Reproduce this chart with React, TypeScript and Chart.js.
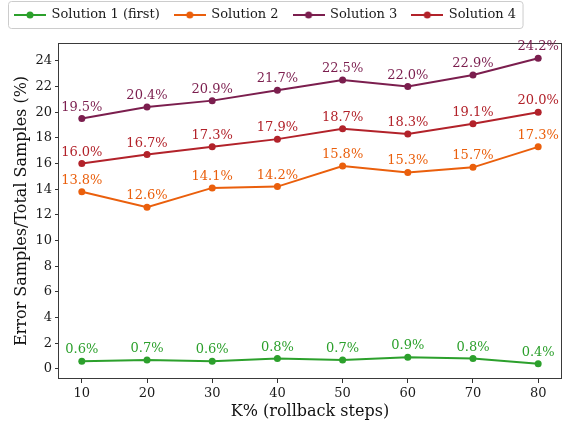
import React, { useEffect, useRef } from 'react';
import { Chart, registerables } from 'chart.js';

Chart.register(...registerables);

const kValues = [10, 20, 30, 40, 50, 60, 70, 80];
const solution1 = [0.6, 0.7, 0.6, 0.8, 0.7, 0.9, 0.8, 0.4];
const solution2 = [13.8, 12.6, 14.1, 14.2, 15.8, 15.3, 15.7, 17.3];
const solution3 = [19.5, 20.4, 20.9, 21.7, 22.5, 22.0, 22.9, 24.2];
const solution4 = [16.0, 16.7, 17.3, 17.9, 18.7, 18.3, 19.1, 20.0];
const seriesNames = ['Solution 1 (first)', 'Solution 2', 'Solution 3', 'Solution 4'];
const seriesValues = [solution1, solution2, solution3, solution4];
const yTickValues = [0, 2, 4, 6, 8, 10, 12, 14, 16, 18, 20, 22, 24];
const xTitle = 'K% (rollback steps)';
const yTitle = 'Error Samples/Total Samples (%)';

const COLORS = ['#2ca02c', '#ea5f0c', '#7b1e4e', '#b2222a'];
const FONT = 'DejaVu Serif';
const X_MIN = 6.5;
const X_MAX = 83.5;
const Y_MIN = -0.79;
const Y_MAX = 25.39;

function makeMarker(color: string): HTMLCanvasElement {
  const c = document.createElement('canvas');
  c.width = 32;
  c.height = 10;
  const ctx = c.getContext('2d')!;
  ctx.strokeStyle = color;
  ctx.lineWidth = 2;
  ctx.beginPath();
  ctx.moveTo(0, 5);
  ctx.lineTo(32, 5);
  ctx.stroke();
  ctx.fillStyle = color;
  ctx.beginPath();
  ctx.arc(16, 5, 3.5, 0, Math.PI * 2);
  ctx.fill();
  return c;
}

export default function App() {
  const ref = useRef<HTMLCanvasElement>(null);

  useEffect(() => {
    document.body.style.margin = '0';
    const canvas = ref.current!;
    const markers = COLORS.map((c) => makeMarker(c));

    const layoutPlugin = {
      id: 'layoutTweaks',
      beforeInit(chart: any) {
        const legend = chart.legend;
        if (legend) {
          const origFit = legend.fit.bind(legend);
          legend.fit = function () {
            origFit();
            this.height = 43;
          };
        }
      },
      afterLayout(chart: any) {
        if (chart.legend) chart.legend.top = -6.5;
      },
      beforeDraw(chart: any) {
        const legend = chart.legend;
        const hb = legend && legend.legendHitBoxes;
        if (!hb || !hb.length) return;
        const ctx = chart.ctx;
        const last = hb[hb.length - 1];
        const l = hb[0].left - 6.5;
        const r = last.left + last.width + 7;
        const t = hb[0].top - 7;
        const b = hb[0].top + hb[0].height + 7;
        ctx.save();
        ctx.beginPath();
        ctx.roundRect(l, t, r - l, b - t, 3);
        ctx.fillStyle = 'rgba(255,255,255,0.8)';
        ctx.fill();
        ctx.strokeStyle = '#cccccc';
        ctx.lineWidth = 1;
        ctx.stroke();
        ctx.restore();
      },
      beforeDatasetsDraw(chart: any) {
        const { ctx, chartArea } = chart;
        ctx.save();
        ctx.strokeStyle = '#3a3a3a';
        ctx.lineWidth = 1;
        ctx.strokeRect(
          Math.round(chartArea.left) - 0.5,
          Math.round(chartArea.top) + 0.5,
          Math.round(chartArea.right - chartArea.left) + 1,
          Math.round(chartArea.bottom - chartArea.top) - 1
        );
        ctx.restore();
      },
      afterDatasetsDraw(chart: any) {
        const ctx = chart.ctx;
        ctx.save();
        ctx.font = `13px "${FONT}"`;
        ctx.textAlign = 'center';
        ctx.textBaseline = 'alphabetic';
        chart.data.datasets.forEach((ds: any, i: number) => {
          const meta = chart.getDatasetMeta(i);
          ctx.fillStyle = COLORS[i];
          meta.data.forEach((pt: any, j: number) => {
            const v = ds.data[j].y;
            ctx.fillText(`${v.toFixed(1)}%`, pt.x, pt.y - 8);
          });
        });
        ctx.restore();
      },
    };

    const chart = new Chart(canvas, {
      type: 'line',
      data: {
        datasets: seriesValues.map((vals, i) => ({
          label: seriesNames[i],
          data: vals.map((v, j) => ({ x: kValues[j], y: v })),
          borderColor: COLORS[i],
          backgroundColor: COLORS[i],
          borderWidth: 2,
          pointRadius: 3.5,
          pointBorderWidth: 0,
          pointBackgroundColor: COLORS[i],
          tension: 0,
          fill: false,
        })),
      },
      options: {
        responsive: false,
        animation: false,
        devicePixelRatio: 1,
        layout: { padding: { left: 0, right: 19, top: 0, bottom: 0 } },
        plugins: {
          tooltip: { enabled: false },
          legend: {
            position: 'top',
            align: 'start',
            labels: {
              usePointStyle: true,
              pointStyleWidth: 30,
              padding: 15,
              color: '#1a1a1a',
              font: { family: FONT, size: 13 },
              generateLabels: (ch: any) =>
                ch.data.datasets.map((ds: any, i: number) => ({
                  text: ds.label,
                  pointStyle: markers[i],
                  fillStyle: COLORS[i],
                  strokeStyle: COLORS[i],
                  lineWidth: 0,
                  hidden: false,
                  datasetIndex: i,
                  fontColor: '#1a1a1a',
                })),
            },
          },
        },
        scales: {
          x: {
            type: 'linear',
            min: X_MIN,
            max: X_MAX,
            afterBuildTicks: (scale: any) => {
              scale.ticks = kValues.map((v) => ({ value: v }));
            },
            afterFit: (scale: any) => {
              scale.height = 49;
            },
            grid: {
              display: true,
              drawOnChartArea: false,
              drawTicks: true,
              tickLength: 4,
              tickColor: '#333',
              color: '#333',
            },
            border: { display: false },
            ticks: {
              color: '#1a1a1a',
              padding: 3,
              maxRotation: 0,
              font: { family: FONT, size: 13 },
              callback: (v: any) => String(v),
            },
            title: {
              display: true,
              text: xTitle,
              color: '#111',
              font: { family: FONT, size: 16 },
              padding: { top: 0, bottom: 7 },
            },
          },
          y: {
            type: 'linear',
            position: 'left',
            min: Y_MIN,
            max: Y_MAX,
            afterBuildTicks: (scale: any) => {
              scale.ticks = yTickValues.map((v) => ({ value: v }));
            },
            afterFit: (scale: any) => {
              scale.width = 59;
            },
            grid: {
              display: true,
              drawOnChartArea: false,
              drawTicks: true,
              tickLength: 4,
              tickColor: '#333',
              color: '#333',
            },
            border: { display: false },
            ticks: {
              color: '#1a1a1a',
              padding: 3,
              font: { family: FONT, size: 13 },
              callback: (v: any) => String(v),
            },
            title: {
              display: true,
              text: yTitle,
              color: '#111',
              font: { family: FONT, size: 16 },
              padding: { top: 12, bottom: 0 },
            },
          },
          yMinor: {
            type: 'linear',
            position: 'left',
            min: Y_MIN,
            max: Y_MAX,
            afterBuildTicks: (scale: any) => {
              scale.ticks = scale.ticks.filter((t: any) => t.value >= scale.min && t.value <= scale.max);
            },
            afterFit: (scale: any) => {
              scale.width = 0;
            },
            grid: {
              display: true,
              drawOnChartArea: false,
              drawTicks: true,
              tickLength: 2.5,
              tickColor: '#333',
              color: '#333',
            },
            border: { display: false },
            ticks: { display: false, stepSize: 0.5, includeBounds: false },
          },
        },
      },
      plugins: [layoutPlugin],
    } as any);

    return () => chart.destroy();
  }, []);

  return (
    <div style={{ width: 580, height: 428 }}>
      <canvas ref={ref} width={580} height={428} style={{ display: 'block', width: 580, height: 428 }} />
    </div>
  );
}
